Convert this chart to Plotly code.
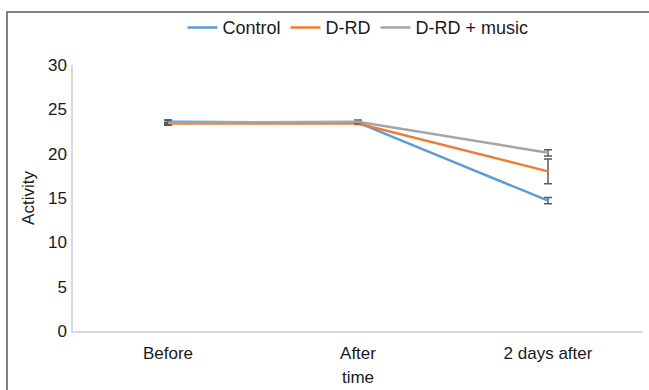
import plotly.graph_objects as go

categories = ["Before", "After", "2 days after"]
control = [23.6, 23.5, 14.7]
drd = [23.4, 23.4, 18.0]
music = [23.5, 23.6, 20.1]
control_err = [0.2, 0.1, 0.35]
drd_err = [0.15, 0.1, 1.4]
music_err = [0.3, 0.2, 0.35]

series = [
    ("Control", control, control_err, "#5B9BD5"),
    ("D-RD", drd, drd_err, "#ED7D31"),
    ("D-RD + music", music, music_err, "#A5A5A5"),
]

fig = go.Figure()
for name, vals, errs, col in series:
    fig.add_trace(go.Scatter(
        x=categories, y=vals, name=name, mode="lines",
        line=dict(color=col, width=2.5),
        error_y=dict(type="data", array=errs, visible=True,
                     color="#595959", thickness=1.5, width=4),
    ))

font = dict(family="Liberation Sans, Arial, sans-serif", size=17, color="#1a1a1a")
fig.update_layout(
    width=649, height=390,
    margin=dict(l=73, r=6, t=65, b=59, autoexpand=False),
    plot_bgcolor="white", paper_bgcolor="white",
    font=font,
    showlegend=True,
    legend=dict(orientation="h", x=0.5, xanchor="center", y=1.14, yanchor="middle",
                font=dict(size=18, color="#1a1a1a"), itemwidth=30, tracegroupgap=0,
                bgcolor="rgba(0,0,0,0)"),
    xaxis=dict(type="category", range=[-0.5, 2.5], showgrid=False,
               showline=True, linecolor="#D9D9D9", linewidth=1.5,
               ticks="outside", ticklen=6, tickcolor="rgba(0,0,0,0)",
               title=dict(text="time", font=font, standoff=9),
               zeroline=False),
    yaxis=dict(range=[0, 30], dtick=5, showgrid=False,
               showline=True, linecolor="#D9D9D9", linewidth=1.5,
               ticks="outside", ticklen=1, tickcolor="rgba(0,0,0,0)",
               title=dict(text="Activity", font=font, standoff=9),
               zeroline=False),
    shapes=[dict(type="rect", xref="paper", yref="paper",
                 x0=(7 - 73) / 570, x1=1.2, y0=-0.5, y1=(331 - 12) / 266,
                 line=dict(color="#595959", width=1.5), fillcolor="rgba(0,0,0,0)",
                 layer="below")],
)

fig.write_html("out.html", config={"displayModeBar": False},
               post_script="document.body.style.margin='0';document.body.style.overflow='hidden';")
